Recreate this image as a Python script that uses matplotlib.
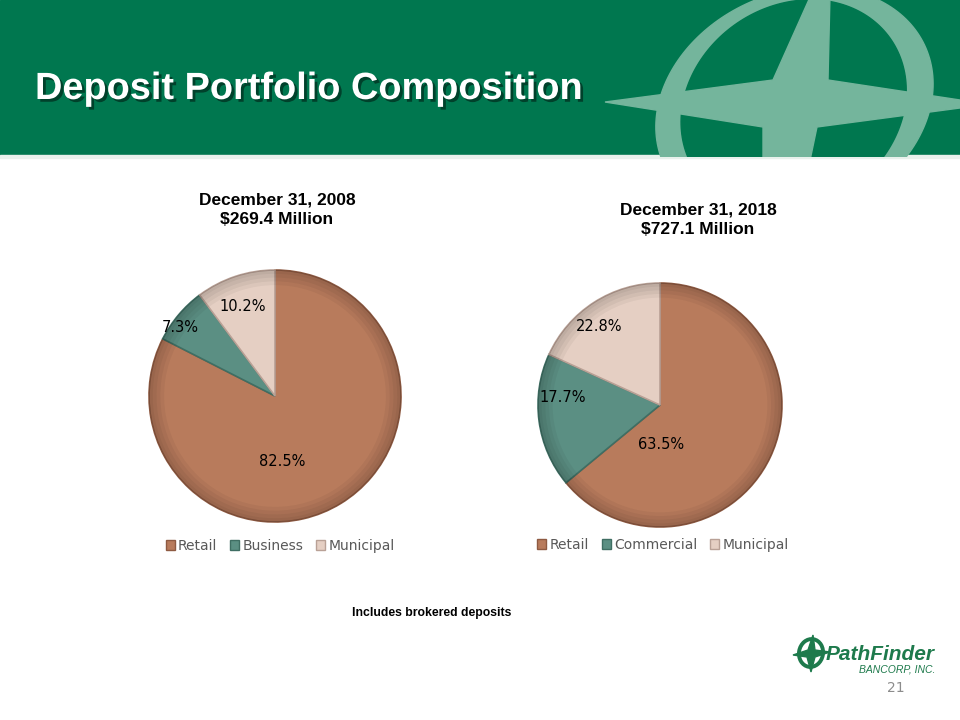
import numpy as np
import matplotlib
matplotlib.use("Agg")
import matplotlib.pyplot as plt
import matplotlib.patheffects as pe
from matplotlib.patches import Rectangle, Ellipse, Polygon, Patch

# Data
title_2008 = "December 31, 2008\n$269.4 Million"
cats_2008 = ["Retail", "Business", "Municipal"]
vals_2008 = [82.5, 7.3, 10.2]

title_2018 = "December 31, 2018\n$727.1 Million"
cats_2018 = ["Retail", "Commercial", "Municipal"]
labels_2018 = [63.5, 17.7, 22.8]
# slice sizes as drawn on the slide (labels add up to 104%)
vals_2018 = [64.0, 17.8, 18.2]

colors = ["#B87B5C", "#5B8F83", "#E5CFC3"]
edges = ["#8E5A42", "#3F6E63", "#B9A196"]
green = "#00774F"
light = "#74B59C"


def ellipse_outline(pts, n=200):
    # fit a conic through traced edge points of the header logo, return a smooth outline
    p = (np.array(pts, float) - [800, 100]) / 100
    x, y = p[:, 0], p[:, 1]
    A = np.column_stack([x * x, x * y, y * y, x, y])
    a, b, c, d, e = np.linalg.lstsq(A, np.ones(len(x)), rcond=None)[0]
    x0, y0 = np.linalg.solve([[2 * a, b], [b, 2 * c]], [-d, -e])
    f0 = a * x0 ** 2 + b * x0 * y0 + c * y0 ** 2 + d * x0 + e * y0 - 1
    lam, vec = np.linalg.eigh([[a, b / 2], [b / 2, c]])
    t = np.linspace(0, 2 * np.pi, n)
    ax_len = np.sqrt(-f0 / lam)
    xy = vec @ np.vstack([ax_len[0] * np.cos(t), ax_len[1] * np.sin(t)])
    return (xy.T + [x0, y0]) * 100 + [800, 100]


outer_pts = [(825, -14), (760, 0), (717, 20), (683, 53), (663, 90), (657, 120), (660, 157),
             (905, 157), (927, 113), (937, 97), (930, 67), (910, 27), (880, 0)]
inner_pts = [(838, -6), (850, 0), (883, 27), (897, 67), (898, 92), (887, 157), (697, 157),
             (692, 115), (670, 93), (700, 57), (740, 33), (797, 20)]

fig = plt.figure(figsize=(9.6, 7.2), dpi=100)
bg = fig.add_axes([0, 0, 1, 1])
bg.set_xlim(0, 960)
bg.set_ylim(720, 0)
bg.axis("off")

# header band with compass decoration (pixel coords of the slide)
head = Rectangle((0, 0), 960, 157, color=green, zorder=0)
bg.add_patch(head)
bg.add_patch(Rectangle((0, 155), 960, 3, color="#E8F1EC", zorder=0))
ring_out = Polygon(ellipse_outline(outer_pts), closed=True, color=light, zorder=1)
ring_in = Polygon(ellipse_outline(inner_pts), closed=True, color=green, zorder=1.5)
star = Polygon([(605, 102), (773, 80), (811, -5), (830, -5), (828, 80), (960, 100),
                (960, 108), (817, 127), (808, 170), (763, 170), (763, 127)],
               closed=True, color=light, zorder=2)
for p in (ring_out, ring_in, star):
    bg.add_patch(p)
    p.set_clip_path(head)

bg.text(35, 89, "Deposit Portfolio Composition", color="white", fontsize=27.3, fontweight="bold",
        family="Liberation Sans", va="center", ha="left", zorder=3,
        path_effects=[pe.withSimplePatchShadow(offset=(2, -2), shadow_rgbFace="black", alpha=0.45)])


def draw_pie(rect, vals, cats, labels, label_pos, title, title_xy, leg_xy):
    ax = fig.add_axes(rect)
    wedges, _ = ax.pie(vals, colors=colors, startangle=90, counterclock=False,
                       wedgeprops=dict(linewidth=1.2))
    for w, ec in zip(wedges, edges):
        w.set_edgecolor(ec)
        w.set_clip_on(False)
    # darker rim for the bevel look
    for wd in [0.03, 0.06, 0.09, 0.12]:
        ax.pie(vals, colors=["black"] * 3, startangle=90, counterclock=False,
               wedgeprops=dict(width=wd, linewidth=0, alpha=0.045))
    ax.set_xlim(-1, 1)
    ax.set_ylim(-1, 1)
    ax.set_aspect("equal")
    for lab, (x, y) in zip(labels, label_pos):
        ax.text(x, y, f"{lab:.1f}%", ha="center", va="center", fontsize=10.5, color="black",
                family="DejaVu Sans")
    bg.text(title_xy[0], title_xy[1], title, ha="center", va="center", fontsize=12.5,
            fontweight="bold", family="Liberation Sans", linespacing=1.35)
    handles = [Patch(facecolor=c, edgecolor=e, label=n) for c, e, n in zip(colors, edges, cats)]
    fig.legend(handles=handles, loc="center", bbox_to_anchor=(leg_xy[0] / 960, 1 - leg_xy[1] / 720),
               ncol=3, frameon=False, fontsize=10, handlelength=0.65, handleheight=0.65,
               handletextpad=0.25, columnspacing=0.9, labelcolor="#595959")


draw_pie([149 / 960, 198 / 720, 252 / 960, 252 / 720], vals_2008, cats_2008, vals_2008,
         [(0.06, -0.52), (-0.75, 0.54), (-0.26, 0.71)], title_2008, (277, 210), (280, 546))
draw_pie([538 / 960, 193 / 720, 244 / 960, 244 / 720], vals_2018, cats_2018, labels_2018,
         [(0.01, -0.32), (-0.80, 0.06), (-0.50, 0.64)], title_2018, (698, 220), (663, 545))

bg.text(432, 613, "Includes brokered deposits", ha="center", va="center", fontsize=8.8,
        fontweight="bold", family="Liberation Sans")

# footer logo and page number
bg.add_patch(Ellipse((811, 653), 24, 28, angle=10, fill=False, lw=2.8, ec="#1E7A4C"))
bg.add_patch(Polygon([(793, 655), (808, 650), (813, 635), (815, 650), (830, 652), (815, 657),
                      (811, 672), (807, 657)], closed=True, color="#1E7A4C"))
bg.text(935, 655, "PathFinder", ha="right", va="center", fontsize=15, fontweight="bold",
        style="italic", color="#1E7A4C", family="Liberation Sans")
bg.text(935, 670, "BANCORP, INC.", ha="right", va="center", fontsize=7.5, style="italic",
        color="#1E7A4C", family="Liberation Sans")
bg.text(896, 688, "21", ha="center", va="center", fontsize=10, color="#8C8C8C")

fig.savefig("out.png", dpi=100)
